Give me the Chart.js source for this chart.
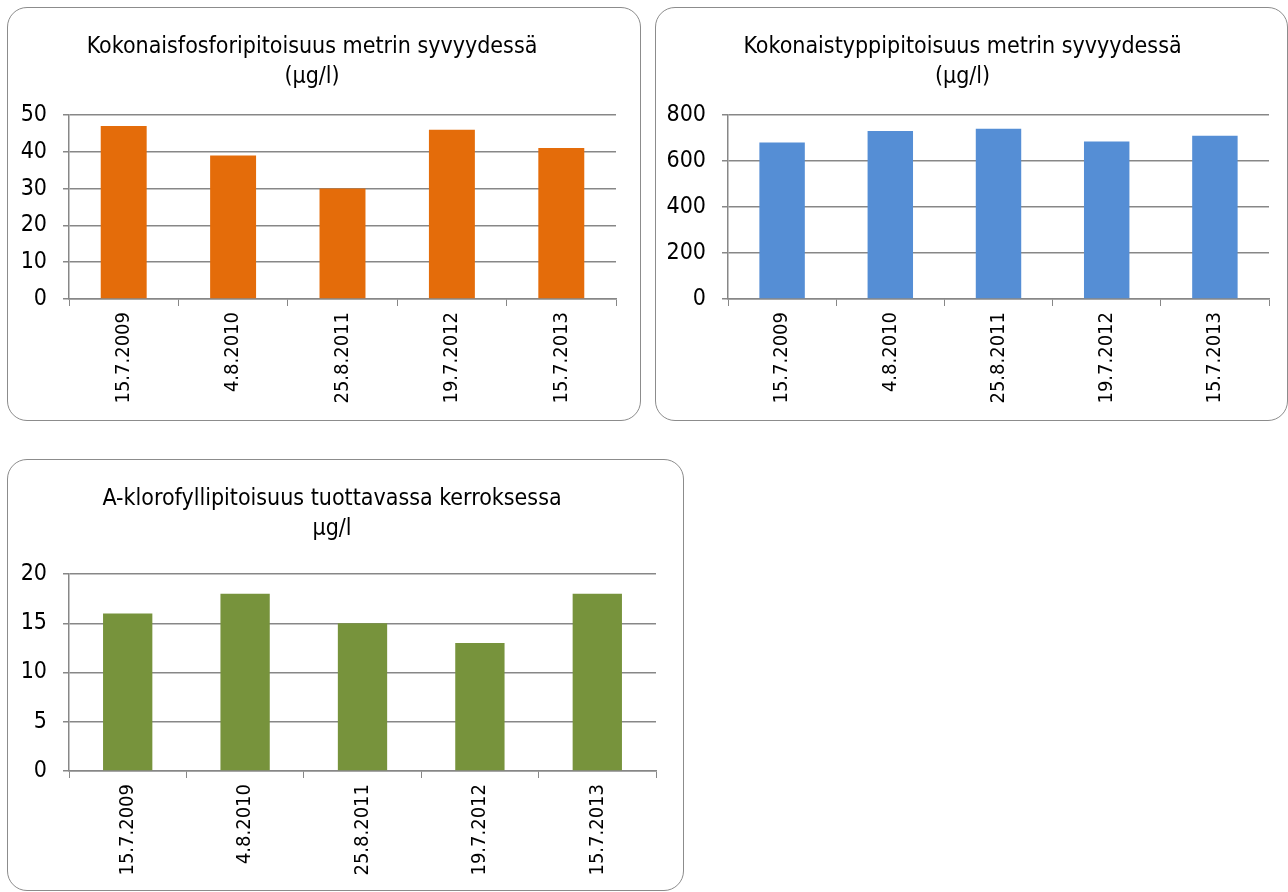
<!DOCTYPE html>
<html>
<head>
<meta charset="utf-8">
<script src="https://cdn.jsdelivr.net/npm/chart.js@4/dist/chart.umd.min.js"></script>
<style>
  body { margin: 0; background: #fff; width: 1288px; height: 892px; position: relative; overflow: hidden; }
  .panel { position: absolute; border: 1.5px solid #8c8c8c; border-radius: 20px; box-sizing: border-box; background: #fff; }
  .panel canvas { position: absolute; left: 0; top: 0; }
</style>
</head>
<body>
<div class="panel" style="left:7px; top:7px; width:634px; height:414px;"><canvas id="fosforiChart"></canvas></div>
<div class="panel" style="left:655px; top:7px; width:633px; height:414px;"><canvas id="typpiChart"></canvas></div>
<div class="panel" style="left:7px; top:459px; width:677px; height:432px;"><canvas id="klorofylliChart"></canvas></div>
<script>
// data
const dates = ['15.7.2009', '4.8.2010', '25.8.2011', '19.7.2012', '15.7.2013'];
const fosfori = [47, 39, 30, 46, 41];
const typpi = [680, 730, 740, 685, 710];
const klorofylli = [16, 18, 15, 13, 18];

const fosforiTicks = [0, 10, 20, 30, 40, 50];
const typpiTicks = [0, 200, 400, 600, 800];
const klorofylliTicks = [0, 5, 10, 15, 20];

const FONT = "'DejaVu Sans Condensed', 'Liberation Sans Narrow', sans-serif";
const GRID = '#878787';

function makeChart(id, w, h, title, values, color, ticks, area) {
    let cv = document.getElementById(id);
    cv.width = w;
    cv.height = h;
    cv.style.width = w + 'px';
    cv.style.height = h + 'px';

    return new Chart(cv.getContext('2d'), {
        type: 'bar',
        data: {
            labels: dates,
            datasets: [{
                data: values,
                backgroundColor: color,
                barPercentage: 0.42,
                categoryPercentage: 1,
            }],
        },
        options: {
            responsive: false,
            animation: false,
            devicePixelRatio: 1,
            layout: { padding: { left: 0, right: w - area.right, top: 0, bottom: 0 } },
            plugins: {
                legend: { display: false },
                tooltip: { enabled: false },
                title: {
                    display: true,
                    text: title,
                    color: '#000',
                    font: { family: FONT, size: 23, weight: 'normal', lineHeight: 1.3 },
                    padding: { top: area.titleTop, bottom: 0 },
                },
            },
            scales: {
                x: {
                    grid: { display: true, drawOnChartArea: false, drawTicks: true, tickLength: 7, color: GRID, lineWidth: 1 },
                    border: { display: true, color: GRID, width: 1.5 },
                    ticks: { color: '#000', font: { family: FONT, size: 20 }, minRotation: 90, maxRotation: 90, autoSkip: false, padding: 6 },
                    afterFit: (s) => { s.height = h - area.bottom; },
                },
                y: {
                    min: ticks[0],
                    max: ticks[ticks.length - 1],
                    afterBuildTicks: (s) => { s.ticks = ticks.map(v => ({ value: v })); },
                    grid: { color: GRID, lineWidth: 1.5, tickLength: 6 },
                    border: { display: true, color: GRID, width: 1.5 },
                    ticks: { color: '#000', font: { family: FONT, size: 23 }, padding: 16 },
                    afterFit: (s) => { s.width = area.left; },
                },
            },
        },
        plugins: [{
            id: 'fixTop',
            afterLayout(chart) {
                // keep the plot top where the reference has it
                let ca = chart.chartArea;
                if (Math.abs(ca.top - area.top) > 0.5) {
                    chart.options.plugins.title.padding.bottom += area.top - ca.top;
                    chart.update('none');
                }
            }
        }]
    });
}

makeChart('fosforiChart', 634, 414, ['Kokonaisfosforipitoisuus metrin syvyydessä', '(µg/l)'],
    fosfori, '#e46c0a', fosforiTicks, { left: 61, right: 608, top: 107, bottom: 291, titleTop: 24 });

makeChart('typpiChart', 633, 414, ['Kokonaistyppipitoisuus metrin syvyydessä', '(µg/l)'],
    typpi, '#558ed5', typpiTicks, { left: 72, right: 613, top: 107, bottom: 291, titleTop: 24 });

makeChart('klorofylliChart', 677, 432, ['A-klorofyllipitoisuus tuottavassa kerroksessa', 'µg/l'],
    klorofylli, '#77933c', klorofylliTicks, { left: 61, right: 648, top: 114, bottom: 311, titleTop: 24 });
</script>
</body>
</html>
